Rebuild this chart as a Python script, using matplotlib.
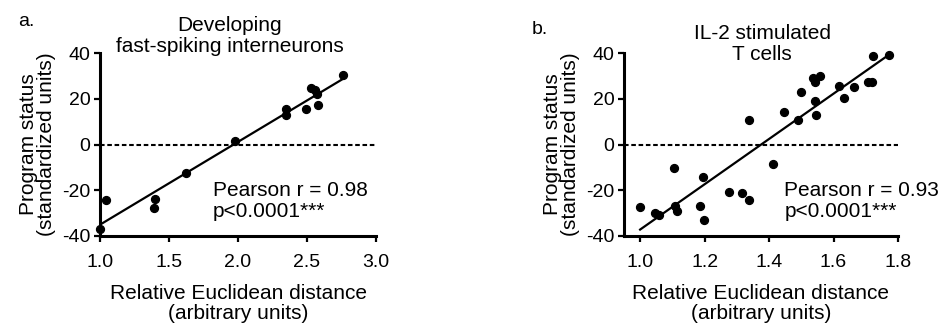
import numpy as np
import matplotlib
matplotlib.use("Agg")
import matplotlib.pyplot as plt

plt.rcParams['font.family'] = ['Liberation Sans', 'DejaVu Sans']
plt.rcParams['axes.unicode_minus'] = False

# panel a: developing fast-spiking interneurons
a_x = [1.00, 1.04, 1.39, 1.40, 1.62, 1.98, 2.35, 2.35, 2.49, 2.53, 2.56, 2.57, 2.58, 2.76]
a_y = [-37.0, -24.2, -27.9, -23.8, -12.4, 1.6, 15.5, 12.8, 15.5, 24.8, 23.8, 21.9, 17.4, 30.5]

# panel b: IL-2 stimulated T cells
b_x = [1.000, 1.045, 1.060, 1.104, 1.107, 1.114, 1.186, 1.195, 1.197, 1.275, 1.316,
       1.337, 1.339, 1.411, 1.445, 1.489, 1.499, 1.536, 1.544, 1.541, 1.545, 1.559,
       1.618, 1.634, 1.665, 1.706, 1.720, 1.723, 1.771]
b_y = [-27.5, -30.1, -30.8, -10.1, -26.7, -29.0, -26.7, -14.4, -32.9, -20.6, -21.0,
       10.7, -24.2, -8.5, 14.1, 10.7, 23.1, 29.2, 27.2, 19.2, 12.9, 30.1,
       25.4, 20.4, 25.1, 27.5, 27.2, 38.6, 39.2]

panels = [
    dict(x=a_x, y=a_y, letter="a.", title="Developing\nfast-spiking interneurons",
         r="0.98", xlim=(1.0, 3.0), xticks=[1.0, 1.5, 2.0, 2.5, 3.0],
         rect=[100/941, 1-236/326, 276/941, 183/326], title_pos=(230, 36),
         stat_x=0.41, letter_pos=(18, 22)),
    dict(x=b_x, y=b_y, letter="b.", title="IL-2 stimulated\nT cells",
         r="0.93", xlim=(0.95, 1.8), xticks=[1.0, 1.2, 1.4, 1.6, 1.8],
         rect=[624/941, 1-236/326, 274/941, 183/326], title_pos=(762, 44),
         stat_x=0.585, letter_pos=(532, 30)),
]

fig = plt.figure(figsize=(9.41, 3.26), dpi=100)
for p in panels:
    ax = fig.add_axes(p["rect"])
    ax.scatter(p["x"], p["y"], s=32, color="black", zorder=3, clip_on=False)
    slope, icpt = np.polyfit(p["x"], p["y"], 1)
    xs = np.array([min(p["x"]), max(p["x"])])
    ax.plot(xs, slope*xs + icpt, color="black", lw=1.6)
    ax.axhline(0, color="black", lw=1.5, ls=(0, (2.2, 1.3)))
    ax.set_xlim(*p["xlim"])
    ax.set_ylim(-40, 40)
    ax.set_xticks(p["xticks"])
    ax.set_xticklabels(["%.1f" % t for t in p["xticks"]])
    ax.set_yticks([-40, -20, 0, 20, 40])
    for s in ["top", "right"]:
        ax.spines[s].set_visible(False)
    for s in ["left", "bottom"]:
        ax.spines[s].set_linewidth(2.2)
    ax.tick_params(width=1.6, length=4, labelsize=14)
    ax.tick_params(axis="x", pad=9)
    ax.tick_params(axis="y", pad=3)
    ax.set_xlabel("Relative Euclidean distance\n(arbitrary units)", fontsize=15,
                  labelpad=9, linespacing=1.12)
    ax.set_ylabel("Program status\n(standardized units)", fontsize=15,
                  labelpad=4, linespacing=0.98)
    tx, ty = p["title_pos"]
    fig.text(tx/941, 1-ty/326, p["title"], fontsize=15, ha="center", va="center",
             linespacing=1.15)
    ax.text(p["stat_x"], 0.19, "Pearson r = " + p["r"] + "\np<0.0001***",
            transform=ax.transAxes, fontsize=15, va="center", ha="left",
            linespacing=1.1)
    lx, ly = p["letter_pos"]
    fig.text(lx/941, 1-ly/326, p["letter"], fontsize=14, va="center", ha="left")

fig.savefig("out.png", dpi=100)
